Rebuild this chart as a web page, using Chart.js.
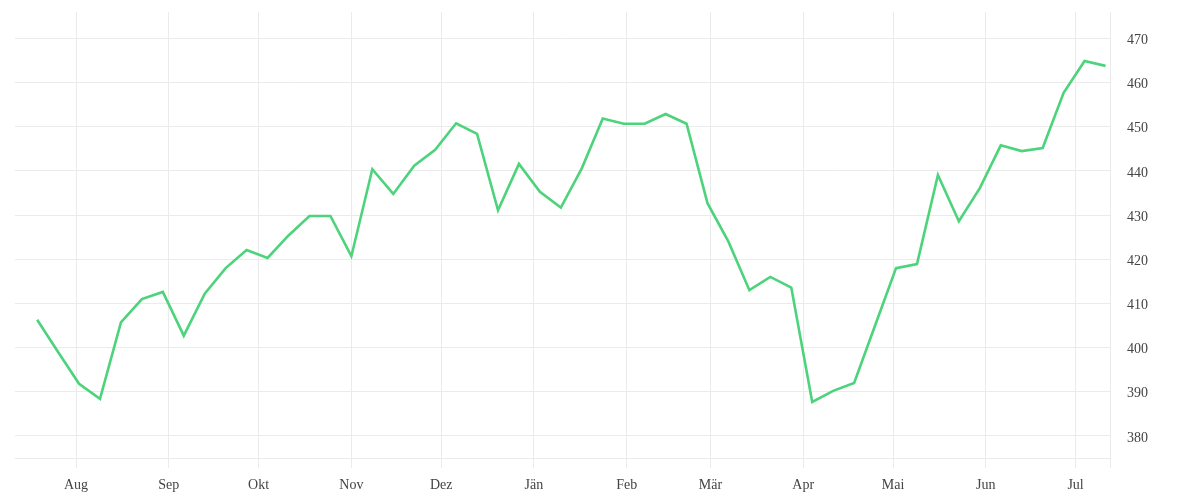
<!DOCTYPE html>
<html>
<head>
<meta charset="utf-8">
<script src="https://cdn.jsdelivr.net/npm/chart.js@4"></script>
<style>
  html, body { margin: 0; padding: 0; background: #ffffff; }
  #wrap { width: 1200px; height: 500px; }
</style>
</head>
<body>
<div id="wrap"><canvas id="c"></canvas></div>
<script>
const dates = [
  '2022-07-19','2022-07-26','2022-08-02','2022-08-09','2022-08-16','2022-08-23','2022-08-30',
  '2022-09-06','2022-09-13','2022-09-20','2022-09-27','2022-10-04','2022-10-11','2022-10-18','2022-10-25',
  '2022-11-01','2022-11-08','2022-11-15','2022-11-22','2022-11-29','2022-12-06','2022-12-13','2022-12-20','2022-12-27',
  '2023-01-03','2023-01-10','2023-01-17','2023-01-24','2023-01-31','2023-02-07','2023-02-14','2023-02-21','2023-02-28',
  '2023-03-07','2023-03-14','2023-03-21','2023-03-28','2023-04-04','2023-04-11','2023-04-18','2023-04-25',
  '2023-05-02','2023-05-09','2023-05-16','2023-05-23','2023-05-30','2023-06-06','2023-06-13','2023-06-20','2023-06-27',
  '2023-07-04','2023-07-11'
];
const values = [
  406.3, 399.0, 391.8, 388.4, 405.7, 411.0, 412.6, 402.7, 412.2, 418.0,
  422.1, 420.3, 425.4, 429.8, 429.8, 420.7, 440.4, 434.8, 441.2, 444.8,
  450.8, 448.4, 431.1, 441.6, 435.3, 431.7, 440.6, 451.9, 450.7, 450.7,
  452.9, 450.7, 432.7, 424.0, 413.0, 416.0, 413.6, 387.7, 390.2, 392.0,
  405.0, 418.0, 418.9, 439.1, 428.6, 436.1, 445.8, 444.5, 445.2, 457.7,
  464.9, 463.8
];
const monthStarts = ['2022-08-01','2022-09-01','2022-10-01','2022-11-01','2022-12-01','2023-01-01',
                     '2023-02-01','2023-03-01','2023-04-01','2023-05-01','2023-06-01','2023-07-01'];
const monthLabels = ['Aug','Sep','Okt','Nov','Dez','Jän','Feb','Mär','Apr','Mai','Jun','Jul'];
const yTicks = [380, 390, 400, 410, 420, 430, 440, 450, 460, 470];
const yMin = 375, yMax = 476;

const base = Date.UTC(2022, 6, 1);
function dayOf(s) {
  const p = s.split('-').map(Number);
  return (Date.UTC(p[0], p[1] - 1, p[2]) - base) / 86400000;
}
const points = dates.map((d, i) => ({ x: dayOf(d), y: values[i] }));
const monthVals = monthStarts.map(dayOf);
const xMin = dayOf(dates[0]) - 7.4;
const xMax = dayOf(dates[dates.length - 1]) + 1.5;

const gridColor = '#ebebeb';
const textColor = '#444444';
const font = { family: "'Liberation Serif', serif", size: 14 };

function zeroPad(s) {
  s.paddingTop = 0; s.paddingBottom = 0; s.paddingLeft = 0; s.paddingRight = 0;
}

new Chart(document.getElementById('c'), {
  type: 'line',
  data: {
    datasets: [{
      data: points,
      borderColor: '#4cd37b',
      borderWidth: 2.6,
      pointRadius: 0,
      pointHoverRadius: 0,
      tension: 0,
      fill: false
    }]
  },
  options: {
    responsive: true,
    maintainAspectRatio: false,
    animation: false,
    layout: { padding: { left: 15, top: 12, right: 0, bottom: 0 } },
    plugins: { legend: { display: false }, tooltip: { enabled: false } },
    scales: {
      x: {
        type: 'linear',
        min: xMin,
        max: xMax,
        afterBuildTicks: (s) => {
          s.ticks = monthVals.map(v => ({ value: v })).concat([{ value: xMax }]);
        },
        afterFit: (s) => { s.height = 42; zeroPad(s); },
        grid: { color: gridColor, lineWidth: 1, tickLength: 10, drawTicks: true },
        border: { display: true, color: gridColor, width: 1 },
        ticks: {
          autoSkip: false,
          maxRotation: 0,
          padding: 9,
          color: textColor,
          font: font,
          callback: (v) => {
            const i = monthVals.indexOf(v);
            return i >= 0 ? monthLabels[i] : '';
          }
        }
      },
      y: {
        type: 'linear',
        position: 'right',
        min: yMin,
        max: yMax,
        afterBuildTicks: (s) => { s.ticks = yTicks.map(v => ({ value: v })); },
        afterFit: (s) => { s.width = 90; zeroPad(s); },
        grid: { color: gridColor, lineWidth: 1, drawTicks: false },
        border: { display: false },
        ticks: {
          padding: 17,
          labelOffset: 2,
          color: textColor,
          font: font
        }
      }
    }
  }
});
</script>
</body>
</html>
